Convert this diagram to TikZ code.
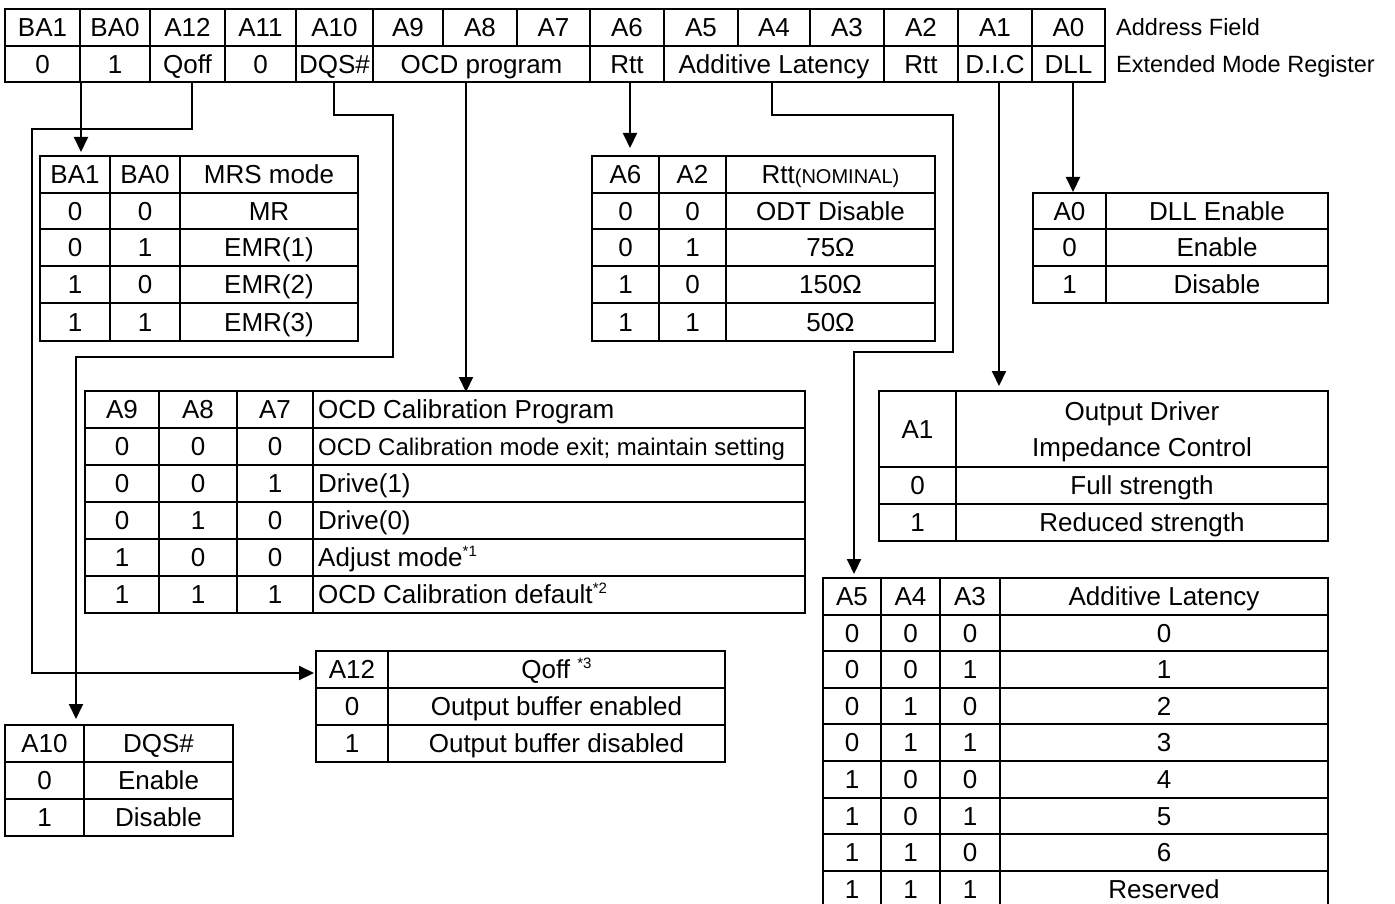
\documentclass[tikz,border=0pt]{standalone}
\usepackage{fontspec}
\setmainfont{Liberation Sans}
\usetikzlibrary{arrows.meta}
\newcommand\tabH[3]{\foreach \yy in {#3} \draw[tbl] (#1,\yy) -- (#2,\yy);}
\newcommand\tabV[3]{\foreach \xx in {#1} \draw[tbl] (\xx,#2) -- (\xx,#3);}
\newcommand\sups[1]{\raisebox{10pt}{\fontsize{15}{15}\selectfont #1}}
\begin{document}
\begin{tikzpicture}[x=1pt,y=-1pt,
  tbl/.style={line width=2.6pt, line cap=rect},
  conn/.style={line width=2pt},
  arr/.style={conn, -{Triangle[width=14pt,length=15pt]}},
  txt/.style={inner sep=0pt, text height=18.6pt, text depth=0pt, font=\fontsize{26}{31}\selectfont},
  txtl/.style={txt, anchor=west},
  small/.style={txt, font=\fontsize{24}{28}\selectfont},
  side/.style={inner sep=0pt, anchor=west, text height=17pt, text depth=0pt, font=\fontsize{23.5}{28}\selectfont}]
\useasboundingbox (0,0) rectangle (1395,904);
\clip (0,0) rectangle (1395,904);

% ---------- register table ----------
\tabH{5}{1105}{9,46,82}
\tabV{5,80,150,225,296,373,443,517,590,664,738,810,884,958,1032,1105}{9}{46}
\tabV{5,80,150,225,296,373,590,664,884,958,1032,1105}{46}{82}
\foreach \xx/\tt/\nn in {42.5/BA1/a, 115/BA0/b, 187.5/A12/c, 260.5/A11/d, 334.5/A10/e, 408/A9/f, 480/A8/g, 553.5/A7/h, 627/A6/i, 701/A5/j, 774/A4/k, 847/A3/l, 921/A2/m, 995/A1/n, 1068.5/A0/o}
  \node[txt] (r1\nn) at (\xx,27.5) {\tt};
\foreach \xx/\tt/\nn in {42.5/0/a, 115/1/b, 187.5/Qoff/c, 260.5/0/d, 334.5/DQS\#/e, 481.5/OCD program/f, 627/Rtt/g, 774/Additive Latency/h, 921/Rtt/i, 995/D.I.C/j, 1068.5/DLL/k}
  \node[txt] (r2\nn) at (\xx,64) {\tt};
\node[side] (addr) at (1116,27.5) {Address Field};
\node[side] (emr) at (1116,64) {Extended Mode Register};

% ---------- MRS mode table ----------
\tabH{40}{358}{156,193,229,266,303,341}
\tabV{40,110,180,358}{156}{341}
\foreach \yy/\aa/\bb/\cc/\nn in {174.5/BA1/BA0/MRS mode/0, 211/0/0/MR/1, 247.5/0/1/EMR(1)/2, 284.5/1/0/EMR(2)/3, 322/1/1/EMR(3)/4}{
  \node[txt] (mrsA\nn) at (75,\yy) {\aa};
  \node[txt] (mrsB\nn) at (145,\yy) {\bb};
  \node[txt] (mrsC\nn) at (269,\yy) {\cc};}

% ---------- Rtt table ----------
\tabH{592}{935}{156,193,229,266,303,341}
\tabV{592,659,726,935}{156}{341}
\node[txt] (rttA0) at (625.5,174.5) {A6};
\node[txt] (rttB0) at (692.5,174.5) {A2};
\node[txt] (rttC0) at (830.5,174.5) {Rtt{\fontsize{20}{20}\selectfont(NOMINAL)}};
\foreach \yy/\aa/\bb/\cc/\nn in {211/0/0/ODT Disable/1, 247.5/0/1/75Ω/2, 284.5/1/0/150Ω/3, 322/1/1/50Ω/4}{
  \node[txt] (rttA\nn) at (625.5,\yy) {\aa};
  \node[txt] (rttB\nn) at (692.5,\yy) {\bb};
  \node[txt] (rttC\nn) at (830.5,\yy) {\cc};}

% ---------- DLL table ----------
\tabH{1033}{1328}{193,229,266,303}
\tabV{1033,1106,1328}{193}{303}
\foreach \yy/\aa/\bb/\nn in {211/A0/DLL Enable/0, 247.5/0/Enable/1, 284.5/1/Disable/2}{
  \node[txt] (dllA\nn) at (1069.5,\yy) {\aa};
  \node[txt] (dllB\nn) at (1217,\yy) {\bb};}

% ---------- OCD table ----------
\tabH{85}{805}{391,428,465,502,539,576,613}
\tabV{85,159,237,313,805}{391}{613}
\node[txt] (ocdA0) at (122,409.5) {A9};
\node[txt] (ocdB0) at (198,409.5) {A8};
\node[txt] (ocdC0) at (275,409.5) {A7};
\node[txtl] (ocdD0) at (318,409.5) {OCD Calibration Program};
\node[txt] (ocdA1) at (122,446.5) {0};
\node[txt] (ocdB1) at (198,446.5) {0};
\node[txt] (ocdC1) at (275,446.5) {0};
\node[small,anchor=west] (ocdD1) at (318,446.5) {OCD Calibration mode exit; maintain setting};
\foreach \yy/\aa/\bb/\cc/\dd/\nn in {483.5/0/0/1/Drive(1)/2, 520.5/0/1/0/Drive(0)/3, 557.5/1/0/0/Adjust mode\sups{*1}/4, 594.5/1/1/1/OCD Calibration default\sups{*2}/5}{
  \node[txt] (ocdA\nn) at (122,\yy) {\aa};
  \node[txt] (ocdB\nn) at (198,\yy) {\bb};
  \node[txt] (ocdC\nn) at (275,\yy) {\cc};
  \node[txtl] (ocdD\nn) at (318,\yy) {\dd};}

% ---------- D.I.C table ----------
\tabH{879}{1328}{391,467,504,541}
\tabV{879,956,1328}{391}{541}
\node[txt] (dicA0) at (917.5,429) {A1};
\node[txt] (dicB0) at (1142,411) {Output Driver};
\node[txt] (dicB0b) at (1142,447) {Impedance Control};
\node[txt] (dicA1) at (917.5,485.5) {0};
\node[txt] (dicB1) at (1142,485.5) {Full strength};
\node[txt] (dicA2) at (917.5,522.5) {1};
\node[txt] (dicB2) at (1142,522.5) {Reduced strength};

% ---------- Additive latency table ----------
\tabH{823}{1328}{578,615,651,688,724,761,798,834,871,907}
\tabV{823,881,940,1000,1328}{578}{907}
\node[txt] (alA0) at (852,596.5) {A5};
\node[txt] (alB0) at (910.5,596.5) {A4};
\node[txt] (alC0) at (970,596.5) {A3};
\node[txt] (alD0) at (1164,596.5) {Additive Latency};
\foreach \yy/\aa/\bb/\cc/\dd/\nn in {633/0/0/0/0/1, 669.5/0/0/1/1/2, 706/0/1/0/2/3, 742.5/0/1/1/3/4, 779.5/1/0/0/4/5, 816/1/0/1/5/6, 852.5/1/1/0/6/7, 889/1/1/1/Reserved/8}{
  \node[txt] (alA\nn) at (852,\yy) {\aa};
  \node[txt] (alB\nn) at (910.5,\yy) {\bb};
  \node[txt] (alC\nn) at (970,\yy) {\cc};
  \node[txt] (alD\nn) at (1164,\yy) {\dd};}

% ---------- Qoff table ----------
\tabH{316}{725}{651,688,725,762}
\tabV{316,388,725}{651}{762}
\foreach \yy/\aa/\bb/\nn in {669.5/A12/Qoff \sups{*3}/0, 706.5/0/Output buffer enabled/1, 743.5/1/Output buffer disabled/2}{
  \node[txt] (qoA\nn) at (352,\yy) {\aa};
  \node[txt] (qoB\nn) at (556.5,\yy) {\bb};}

% ---------- DQS# table ----------
\tabH{5}{233}{725,762,799,836}
\tabV{5,84,233}{725}{836}
\foreach \yy/\aa/\bb/\nn in {743.5/A10/DQS\#/0, 780.5/0/Enable/1, 817.5/1/Disable/2}{
  \node[txt] (dqA\nn) at (44.5,\yy) {\aa};
  \node[txt] (dqB\nn) at (158.5,\yy) {\bb};}

% ---------- connectors ----------
\coordinate (sBA) at (81,82);   \coordinate (dMRS) at (81,152);
\coordinate (sA12) at (192,82); \coordinate (kA12) at (32,129); \coordinate (dQoff) at (314,673);
\coordinate (sDQS) at (334,82); \coordinate (kDQS1) at (393,115); \coordinate (kDQS2) at (76,357); \coordinate (dDQS) at (76,719);
\coordinate (sOCD) at (466,82); \coordinate (dOCD) at (466,392);
\coordinate (sRtt) at (630,82); \coordinate (dRtt) at (630,148);
\coordinate (sAL) at (772,82);  \coordinate (kAL1) at (953,115); \coordinate (kAL2) at (854,352); \coordinate (dAL) at (854,574);
\coordinate (sDIC) at (999,82); \coordinate (dDIC) at (999,386);
\coordinate (sDLL) at (1073,82); \coordinate (dDLL) at (1073,192);

\draw[arr] (sBA) -- (dMRS);
\draw[arr] (sA12) |- (kA12) |- (dQoff);
\draw[arr] (sDQS) |- (kDQS1) |- (kDQS2) -- (dDQS);
\draw[arr] (sOCD) -- (dOCD);
\draw[arr] (sRtt) -- (dRtt);
\draw[arr] (sAL) |- (kAL1) |- (kAL2) -- (dAL);
\draw[arr] (sDIC) -- (dDIC);
\draw[arr] (sDLL) -- (dDLL);
\end{tikzpicture}
\end{document}
